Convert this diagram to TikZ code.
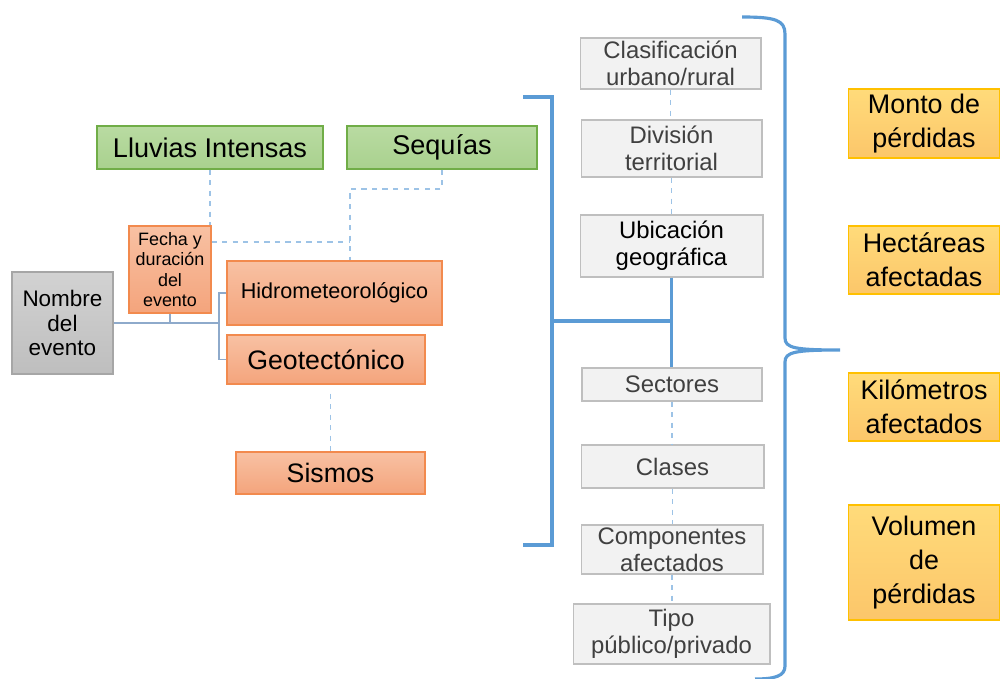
\documentclass[tikz,border=0pt]{standalone}
\usepackage{fontspec}
\setmainfont{Liberation Sans}
\usepackage{tikz}
\usetikzlibrary{positioning}

\definecolor{greenfill}{HTML}{A9D18E}
\definecolor{greentop}{HTML}{B9DBA2}
\definecolor{greenline}{HTML}{70AD47}
\definecolor{orangetop}{HTML}{F8C1A3}
\definecolor{orangebot}{HTML}{F4A47C}
\definecolor{orangeline}{HTML}{F28A4E}
\definecolor{greytop}{HTML}{D2D2D2}
\definecolor{greybot}{HTML}{BEBEBE}
\definecolor{greyline}{HTML}{A6A6A6}
\definecolor{paleline}{HTML}{BFBFBF}
\definecolor{palefill}{HTML}{F2F2F2}
\definecolor{yellowtop}{HTML}{FFDB7A}
\definecolor{yellowbot}{HTML}{FCC66A}
\definecolor{yellowline}{HTML}{FFC000}
\definecolor{bracketblue}{HTML}{5B9BD5}
\definecolor{dashblue}{HTML}{9DC3E6}
\definecolor{linkblue}{HTML}{8EAACB}
\definecolor{darktext}{HTML}{404040}

\tikzset{
  box/.style={draw, inner sep=0pt, align=center, line width=0.6pt},
  hazard/.style={box, draw=greenline, top color=greentop, bottom color=greenfill,
    font=\fontsize{15.4}{17}\selectfont},
  eventbox/.style={box, draw=orangeline, top color=orangetop, bottom color=orangebot,
    font=\fontsize{15.2}{17}\selectfont},
  namebox/.style={box, draw=greyline, top color=greytop, bottom color=greybot,
    font=\fontsize{12.8}{14.2}\selectfont},
  placebox/.style={box, draw=paleline, fill=palefill, text=darktext,
    font=\fontsize{13.6}{15.4}\selectfont},
  lossbox/.style={box, draw=yellowline, top color=yellowtop, bottom color=yellowbot,
    font=\fontsize{15.3}{19.4}\selectfont},
  dashline/.style={draw=dashblue, dashed, line width=0.7pt},
  linkline/.style={draw=linkblue, line width=0.8pt},
  bracket/.style={draw=bracketblue, line width=1.8pt}
}

\begin{document}
\begin{tikzpicture}[x=0.02cm, y=-0.02cm]
				\useasboundingbox (0,0) rectangle (1000,679);

				% evento
				\node[namebox, minimum width=2.02cm, minimum height=2.04cm] (nombre) at (62.5,323) {Nombre\\del\\evento};
				\node[eventbox, font=\fontsize{10.2}{11.6}\selectfont, minimum width=1.64cm, minimum height=1.74cm] (fecha) at (170,269.5) {Fecha y\\duraci\'on\\del\\evento};
				\node[hazard, minimum width=4.52cm, minimum height=0.86cm] (lluvias) at (210,147.5) {Lluvias Intensas};
				\node[hazard, minimum width=3.80cm, minimum height=0.86cm] (sequias) at (442,147.5) {Sequ\'ias};
				\node[eventbox, font=\fontsize{12.3}{14}\selectfont, minimum width=4.30cm, minimum height=1.28cm] (hidro) at (334.5,293) {Hidrometeorol\'ogico};
				\node[eventbox, minimum width=3.96cm, minimum height=0.98cm] (geo) at (326,359.5) {Geotect\'onico};
				\node[eventbox, minimum width=3.78cm, minimum height=0.84cm] (sismos) at (330.5,473) {Sismos};

				% ubicacion
				\node[placebox, minimum width=3.62cm, minimum height=1.02cm] (clasif) at (670.5,63.5) {Clasificaci\'on\\urbano/rural};
				\node[placebox, minimum width=3.62cm, minimum height=1.14cm] (division) at (671.5,148.5) {Divisi\'on\\territorial};
				\node[placebox, text=black, minimum width=3.66cm, minimum height=1.24cm] (ubic) at (671.5,246) {Ubicaci\'on\\geogr\'afica};
				\node[placebox, minimum width=3.60cm, minimum height=0.66cm] (sectores) at (672,384.5) {Sectores};
				\node[placebox, minimum width=3.66cm, minimum height=0.86cm] (clases) at (672.5,466.5) {Clases};
				\node[placebox, minimum width=3.64cm, minimum height=0.98cm] (compon) at (672,549.5) {Componentes\\afectados};
				\node[placebox, minimum width=3.94cm, minimum height=1.20cm] (tipo) at (671.5,634) {Tipo\\p\'ublico/privado};

				% perdidas
				\node[lossbox, minimum width=3.04cm, minimum height=1.38cm] (monto) at (924,123.5) {Monto de\\p\'erdidas};
				\node[lossbox, minimum width=3.04cm, minimum height=1.36cm] (hect) at (924,260) {Hect\'areas\\afectadas};
				\node[lossbox, minimum width=3.04cm, minimum height=1.36cm] (kilo) at (924,407) {Kil\'ometros\\afectados};
				\node[lossbox, minimum width=3.04cm, minimum height=2.30cm] (volumen) at (924,562.5) {Volumen\\de\\p\'erdidas};

				\coordinate (sq) at (350,189);
				\coordinate (fq) at (350,242);
				\coordinate (jn) at (219,323);

				\draw[dashline]  (lluvias.south) -- (lluvias.south |- fecha.north);
				\draw[dashline]  (sequias.south) |- (sq) -- (sq |- hidro.north);
				\draw[dashline]  (fecha.east |- fq) -- (fq);
				\draw[dashline, shorten <=0.18cm]  (geo.south -| sismos.north) -- (sismos.north);

				\draw[linkline]  (nombre.east) -- (jn);
				\draw[linkline]  (fecha.south) -- (fecha.south |- jn);
				\draw[linkline]  (hidro.west) -| (jn) |- (geo.west);

				\draw[dashline]  (clasif.south) -- (clasif.south |- division.north);
				\draw[dashline]  (division.south) -- (division.south |- ubic.north);
				\draw[dashline]  (sectores.south) -- (sectores.south |- clases.north);
				\draw[dashline]  (clases.south) -- (clases.south |- compon.north);
				\draw[dashline]  (compon.south) -- (compon.south |- tipo.north);

				% corchete central
				\coordinate (bt) at (523,97);
				\coordinate (bb) at (523,545);
				\coordinate (bm) at (552,321);
				\draw[bracket]  (bt) -| (552,545) -- (bb);
				\draw[bracket]  (bm) -- (bm -| ubic.south);
				\draw[bracket]  (ubic.south) -- (ubic.south |- sectores.north);

				% llave
				\coordinate (tip) at (840,350);
				\draw[bracket]  (742,17) .. controls (775,17) and (785,20) .. (785,34) -- (785,338)
				  .. controls (785,348) and (795,350) .. (tip)
				  .. controls (795,350) and (785,352) .. (785,362) -- (785,666)
				  .. controls (785,676) and (775,679) .. (755,679);
			\end{tikzpicture}
\end{document}
